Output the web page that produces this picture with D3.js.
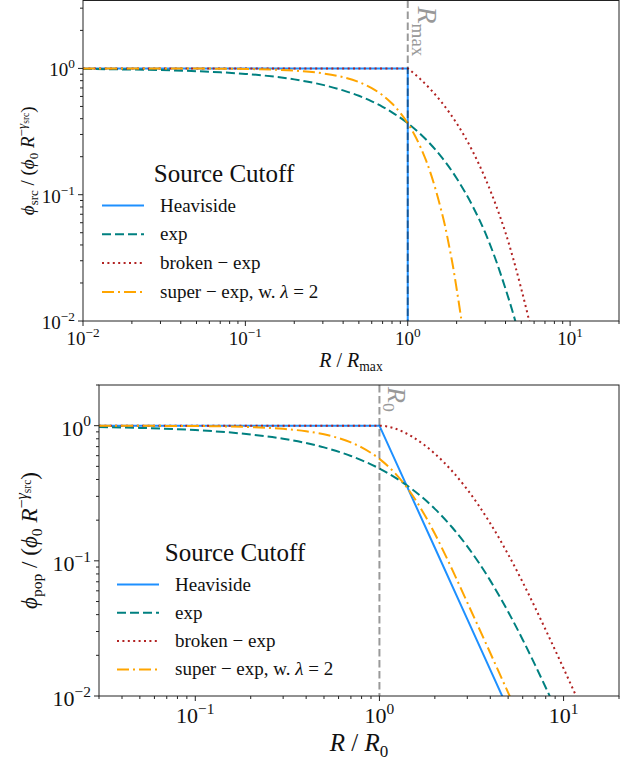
<!DOCTYPE html>
<html>
<head>
<meta charset="utf-8">
<script src="https://cdn.jsdelivr.net/npm/d3@7"></script>
<style>
  body { margin: 0; background: #fff; }
  text { fill: #111; }
</style>
</head>
<body>
<div id="main"></div>
<script>
// values

// top panel: source cutoff phi_src vs R/Rmax
const srcHeavisideR = [0.01, 1, 1]
const srcHeavisidePhi = [1, 1, 0.001]
const srcExpR = [0.01, 0.02, 0.03, 0.05, 0.07, 0.1, 0.15, 0.2, 0.3, 0.4, 0.5, 0.6, 0.7, 0.8, 1.0, 1.2, 1.5, 2.0, 2.5, 3.0, 3.5, 4.0, 4.5, 5.0]
const srcExpPhi = [0.990, 0.980, 0.970, 0.951, 0.932, 0.905, 0.861, 0.819, 0.741, 0.670, 0.607, 0.549, 0.497, 0.449, 0.368, 0.301, 0.223, 0.135, 0.082, 0.050, 0.030, 0.018, 0.011, 0.0067]
const srcBrokenR = [0.01, 1.0, 1.05, 1.1, 1.2, 1.4, 1.6, 1.8, 2.0, 2.5, 3.0, 3.5, 4.0, 4.5, 5.0, 5.5, 6.0]
const srcBrokenPhi = [1, 1, 0.951, 0.905, 0.819, 0.670, 0.549, 0.449, 0.368, 0.223, 0.135, 0.082, 0.050, 0.030, 0.018, 0.011, 0.0067]
const srcSuperR = [0.01, 0.05, 0.1, 0.2, 0.3, 0.4, 0.5, 0.6, 0.7, 0.8, 0.9, 1.0, 1.1, 1.2, 1.3, 1.4, 1.5, 1.6, 1.7, 1.8, 1.9, 2.0, 2.1, 2.2]
const srcSuperPhi = [1.0, 0.9975, 0.990, 0.961, 0.914, 0.852, 0.779, 0.698, 0.613, 0.527, 0.445, 0.368, 0.298, 0.237, 0.185, 0.141, 0.105, 0.077, 0.056, 0.039, 0.027, 0.018, 0.012, 0.0079]

// bottom panel: population phi_pop vs R/R0
const popHeavisideR = [0.03, 1, 2, 3, 5]
const popHeavisidePhi = [1, 1, 0.125, 0.037, 0.008]
const popExpR = [0.03, 0.05, 0.1, 0.2, 0.3, 0.5, 0.7, 1.0, 1.25, 1.5, 2, 2.5, 3, 4, 5, 6, 7, 8, 9, 10]
const popExpPhi = [0.978, 0.963, 0.928, 0.861, 0.800, 0.691, 0.597, 0.482, 0.404, 0.340, 0.2425, 0.175, 0.128, 0.0714, 0.0420, 0.0261, 0.0170, 0.01156, 0.00818, 0.00598]
const popBrokenR = [0.03, 1.0, 1.05, 1.1, 1.2, 1.35, 1.5, 2, 2.5, 3, 4, 5, 6, 7, 8, 10, 12]
const popBrokenPhi = [1, 1, 0.9966, 0.9876, 0.9582, 0.8987, 0.8320, 0.6205, 0.4564, 0.3370, 0.1893, 0.1117, 0.0694, 0.0452, 0.0308, 0.0160, 0.00925]
const popSuperR = [0.03, 0.1, 0.2, 0.3, 0.4, 0.5, 0.6, 0.7, 0.8, 0.9, 1.0, 1.2, 1.4, 1.6, 1.8, 2.0, 2.5, 3, 4, 5, 6]
const popSuperPhi = [0.9995, 0.994, 0.976, 0.948, 0.909, 0.863, 0.809, 0.752, 0.691, 0.629, 0.568, 0.4535, 0.3535, 0.2716, 0.2073, 0.1585, 0.0846, 0.0492, 0.0208, 0.0106, 0.00615]

const cutoffR = 1
const srcXTicks = [0.01, 0.1, 1, 10]
const srcYTicks = [0.01, 0.1, 1]
const popXTicks = [0.1, 1, 10]
const popYTicks = [0.01, 0.1, 1]

const legendTitle = "Source Cutoff"
const legendLabels = [
  [{ t: "Heaviside" }],
  [{ t: "exp" }],
  [{ t: "broken − exp" }],
  [{ t: "super − exp, w. " }, { t: "λ", it: true }, { t: " = 2" }]
]

// styles
const colors = ["#1e90ff", "#008080", "#b22222", "#ffa500"]
const dashes = [null, "9,4", "2,3.4", "12,4,2,4"]
const curves = [d3.curveLinear, d3.curveMonotoneX, d3.curveMonotoneX, d3.curveMonotoneX]
const serif = "Liberation Serif"

const width = 631, height = 760

const svg = d3.select("div#main")
  .append("svg")
  .attr("width", width)
  .attr("height", height)
  .attr("font-family", serif)

// draws text made of italic / sub / sup pieces
function rich(text, parts, fs) {
  const offs = { 0: 0, sub: 0.22, sup: -0.42, ss: -0.26 }
  const scl = { 0: 1, sub: 0.68, sup: 0.7, ss: 0.5 }
  let cur = 0
  text.attr("font-family", serif)
  parts.forEach(p => {
    const lv = p.lv || 0
    text.append("tspan")
      .attr("dy", (offs[lv] - cur) * fs)
      .attr("font-size", fs * scl[lv])
      .attr("font-style", p.it ? "italic" : "normal")
      .text(p.t)
    cur = offs[lv]
  })
  return text
}

function powLabel(v) {
  const e = Math.round(Math.log10(v))
  return [{ t: "10" }, { t: String(e).replace("-", "−"), lv: "sup" }]
}

function minorTicks(domain) {
  let out = []
  const e0 = Math.floor(Math.log10(domain[0])), e1 = Math.ceil(Math.log10(domain[1]))
  for (let e = e0; e <= e1; e++) {
    for (let k = 1; k < 10; k++) {
      const v = k * Math.pow(10, e)
      if (v >= domain[0] * 0.9999 && v <= domain[1] * 1.0001) out.push({ v: v, major: k == 1 })
    }
  }
  return out
}

function panel(o) {
  const g = svg.append("g")
  const x = d3.scaleLog().domain(o.xDomain).range([o.left, o.right])
  const y = d3.scaleLog().domain(o.yDomain).range([o.bottom, o.top])

  g.append("clipPath").attr("id", o.id)
    .append("rect")
    .attr("x", o.left).attr("y", o.top)
    .attr("width", o.right - o.left).attr("height", o.bottom - o.top)

  const line = d3.line().x(d => x(d[0])).y(d => y(d[1]))
  const plot = g.append("g").attr("clip-path", "url(#" + o.id + ")")

  o.series.forEach((s, i) => {
    plot.append("path")
      .datum(d3.zip(s[0], s[1]))
      .attr("d", line.curve(curves[i]))
      .attr("fill", "none")
      .attr("stroke", colors[i])
      .attr("stroke-width", 2)
      .attr("stroke-dasharray", dashes[i])
  })

  // cutoff marker
  plot.append("line")
    .attr("x1", x(cutoffR)).attr("x2", x(cutoffR))
    .attr("y1", o.top).attr("y2", o.bottom)
    .attr("stroke", "#000").attr("stroke-opacity", 0.4)
    .attr("stroke-width", 2)
    .attr("stroke-dasharray", "7.5,3.5")

  rich(g.append("text")
    .attr("transform", "translate(" + (x(cutoffR) + o.rlabDx) + "," + (o.top + o.rlabDy) + ") rotate(90)")
    .style("fill", "#999"), o.rlab, o.rlabSize)

  // spines
  g.append("rect")
    .attr("x", o.left).attr("y", o.top)
    .attr("width", o.right - o.left).attr("height", o.bottom - o.top)
    .attr("fill", "none").attr("stroke", "#222").attr("stroke-width", 1)

  // ticks
  minorTicks(o.xDomain).forEach(t => {
    g.append("line")
      .attr("x1", x(t.v)).attr("x2", x(t.v))
      .attr("y1", o.bottom).attr("y2", o.bottom + (t.major ? 5 : 3))
      .attr("stroke", "#222").attr("stroke-width", 1)
  })
  minorTicks(o.yDomain).forEach(t => {
    g.append("line")
      .attr("x1", o.left).attr("x2", o.left - (t.major ? 5 : 3))
      .attr("y1", y(t.v)).attr("y2", y(t.v))
      .attr("stroke", "#222").attr("stroke-width", 1)
  })
  o.xTicks.forEach(v => {
    rich(g.append("text").attr("x", x(v)).attr("y", o.xTickY).attr("text-anchor", "middle"), powLabel(v), o.tickSize)
  })
  o.yTicks.forEach(v => {
    rich(g.append("text").attr("x", o.left - 8).attr("y", y(v) + o.yTickDy).attr("text-anchor", "end"), powLabel(v), o.tickSize)
  })

  // axis labels
  rich(g.append("text")
    .attr("x", (o.left + o.right) / 2).attr("y", o.xLabY)
    .attr("text-anchor", "middle"), o.xLab, o.xLabSize)
  rich(g.append("text")
    .attr("transform", "translate(" + o.yLabX + "," + (o.top + o.bottom) / 2 + ") rotate(-90)")
    .attr("text-anchor", "middle"), o.yLab, o.yLabSize)

  // legend
  const lg = g.append("g")
  rich(lg.append("text")
    .attr("x", o.legTitleX).attr("y", o.legY)
    .attr("text-anchor", "middle"), [{ t: legendTitle }], 25)
  legendLabels.forEach((lab, i) => {
    const cy = o.legY + 23.5 + i * o.legStep
    lg.append("line")
      .attr("x1", o.legX).attr("x2", o.legX + 42)
      .attr("y1", cy).attr("y2", cy)
      .attr("stroke", colors[i]).attr("stroke-width", 2)
      .attr("stroke-dasharray", dashes[i])
    rich(lg.append("text").attr("x", o.legX + 58).attr("y", cy + 6), lab, 19)
  })
}

panel({
  id: "clipTop",
  left: 83, right: 619, top: 0.5, bottom: 321,
  xDomain: [0.01, 20], yDomain: [0.01, 3.45],
  series: [[srcHeavisideR, srcHeavisidePhi], [srcExpR, srcExpPhi], [srcBrokenR, srcBrokenPhi], [srcSuperR, srcSuperPhi]],
  xTicks: srcXTicks, yTicks: srcYTicks,
  tickSize: 19, xTickY: 345, yTickDy: 8,
  xLab: [{ t: "R", it: true }, { t: " / " }, { t: "R", it: true }, { t: "max", lv: "sub" }],
  xLabSize: 20, xLabY: 367,
  yLab: [{ t: "ϕ", it: true }, { t: "src", lv: "sub" }, { t: " / (" }, { t: "ϕ", it: true }, { t: "0", lv: "sub" }, { t: " " }, { t: "R", it: true },
         { t: "−", lv: "sup" }, { t: "γ", it: true, lv: "sup" }, { t: "src", lv: "ss" }, { t: ")" }],
  yLabSize: 19, yLabX: 34,
  rlab: [{ t: "R", it: true }, { t: "max", lv: "sub" }], rlabSize: 28, rlabDx: 10, rlabDy: 6,
  legX: 102, legTitleX: 224, legY: 182, legStep: 28.8
})

panel({
  id: "clipBottom",
  left: 99, right: 619, top: 385, bottom: 696,
  xDomain: [0.03, 20], yDomain: [0.01, 2],
  series: [[popHeavisideR, popHeavisidePhi], [popExpR, popExpPhi], [popBrokenR, popBrokenPhi], [popSuperR, popSuperPhi]],
  xTicks: popXTicks, yTicks: popYTicks,
  tickSize: 22, xTickY: 723, yTickDy: 10,
  xLab: [{ t: "R", it: true }, { t: " / " }, { t: "R", it: true }, { t: "0", lv: "sub" }],
  xLabSize: 25, xLabY: 751,
  yLab: [{ t: "ϕ", it: true }, { t: "pop", lv: "sub" }, { t: " / (" }, { t: "ϕ", it: true }, { t: "0", lv: "sub" }, { t: " " }, { t: "R", it: true },
         { t: "−", lv: "sup" }, { t: "γ", it: true, lv: "sup" }, { t: "src", lv: "ss" }, { t: ")" }],
  yLabSize: 23, yLabX: 37,
  rlab: [{ t: "R", it: true }, { t: "0", lv: "sub" }], rlabSize: 26, rlabDx: 9, rlabDy: 2,
  legX: 117, legTitleX: 235, legY: 561, legStep: 28.3
})
</script>
</body>
</html>
